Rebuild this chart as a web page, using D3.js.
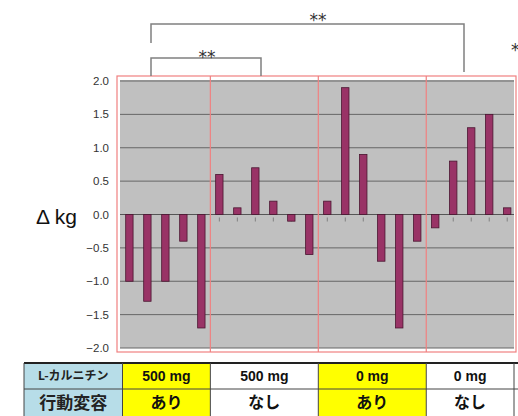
<!DOCTYPE html>
<html><head><meta charset="utf-8">
<script src="https://cdn.jsdelivr.net/npm/d3@7/dist/d3.min.js"></script>
<style>
html,body{margin:0;padding:0;background:#fff;}
svg{display:block;}
</style></head>
<body>
<svg id="c" width="518" height="416"></svg>
<script>
// ---- data ----
const groups = ["A","B","C","D"];
const groupSizes = [5, 6, 6, 5];
const values = [
  -1.0, -1.3, -1.0, -0.4, -1.7,
  0.6, 0.1, 0.7, 0.2, -0.1, -0.6,
  0.2, 1.9, 0.9, -0.7, -1.7, -0.4,
  -0.2, 0.8, 1.3, 1.5, 0.1
];
const yTicks = [2.0, 1.5, 1.0, 0.5, 0.0, -0.5, -1.0, -1.5, -2.0];
const rowHeaders = ["L-カルニチン", "行動変容"];
const row1 = ["500 mg", "500 mg", "0 mg", "0 mg"];
const row2 = ["あり", "なし", "あり", "なし"];
const colFill = ["#ffff00", "#ffffff", "#ffff00", "#ffffff"];
const yLabel = "Δ kg";
const sigLabel = "**";

// ---- layout ----
const svg = d3.select("#c");
const JP = "'Noto Sans CJK JP', 'Noto Sans', sans-serif";
const NUM = "'Liberation Sans Narrow', 'Liberation Sans', Arial, sans-serif";

const ids = values.map((d, i) => i);
const x = d3.scaleBand().domain(ids).range([120.3, 516.3]).paddingInner(0.59).paddingOuter(0.3);
const y = d3.scaleLinear().domain([-2, 2]).range([348, 81]);
const step = x.step();

// group boundaries from the band scale
const bounds = [117];
let acc = 0;
groupSizes.forEach((n, gi) => {
  acc += n;
  if (gi < groupSizes.length - 1) bounds.push(x(acc - 1) + x.bandwidth() / 2 + step / 2);
});
bounds.push(516);

// plot background
svg.append("rect").attr("x", 117).attr("y", 76).attr("width", 399).attr("height", 276)
  .attr("fill", "#fff").attr("stroke", "#f08080").attr("stroke-width", 1.2);
svg.append("rect").attr("x", 120).attr("y", 80).attr("width", 394).attr("height", 268)
  .attr("fill", "#c0c0c0");

// gridlines
svg.append("g").selectAll("line").data(yTicks).join("line")
  .attr("x1", 120).attr("x2", 514)
  .attr("y1", d => y(d)).attr("y2", d => y(d))
  .attr("stroke", d => d === 0 ? "#555" : "#666").attr("stroke-width", 1);

// small category ticks at zero line
svg.append("g").selectAll("line").data(ids).join("line")
  .attr("x1", d => x(d) + x.bandwidth() / 2).attr("x2", d => x(d) + x.bandwidth() / 2)
  .attr("y1", y(0) + 3).attr("y2", y(0) + 7)
  .attr("stroke", "#808080").attr("stroke-width", 1);

// bars
svg.append("g").selectAll("rect").data(values).join("rect")
  .attr("x", (d, i) => x(i))
  .attr("width", x.bandwidth())
  .attr("y", d => y(Math.max(0, d)))
  .attr("height", d => Math.abs(y(d) - y(0)))
  .attr("fill", "#993366").attr("stroke", "#4a1530").attr("stroke-width", 0.8);

// red group dividers
svg.append("g").selectAll("line").data(bounds.slice(1, -1)).join("line")
  .attr("x1", d => d).attr("x2", d => d).attr("y1", 76).attr("y2", 352)
  .attr("stroke", "#f08080").attr("stroke-width", 1.2);

// y axis labels
svg.append("g").selectAll("text").data(yTicks).join("text")
  .attr("x", 109).attr("y", d => y(d)).attr("dy", "0.35em")
  .attr("text-anchor", "end").attr("font-family", NUM).attr("font-size", 11.5)
  .attr("fill", "#333").text(d => d3.format(".1f")(d).replace("-", "−"));

svg.append("text").attr("x", 36).attr("y", 224).attr("font-family", "'Liberation Sans', Arial, sans-serif")
  .attr("font-size", 21).attr("fill", "#111").text(yLabel);

// significance brackets
const br = svg.append("g").attr("stroke", "#808080").attr("stroke-width", 1.5).attr("fill", "none");
br.append("path").attr("d", "M151,43V24H464V72");
br.append("path").attr("d", "M151,76V58H261V76");
const st = svg.append("g").attr("font-family", "'DejaVu Sans', sans-serif")
  .attr("font-size", 17).attr("fill", "#333").attr("text-anchor", "middle");
st.append("text").attr("x", 318).attr("y", 26).text(sigLabel);
st.append("text").attr("x", 207).attr("y", 63).text(sigLabel);
st.append("text").attr("x", 511).attr("y", 56).attr("text-anchor", "start").text(sigLabel);

// table
const tTop = 363, tMid = 389, tBot = 418;
const colX = [24].concat(bounds.slice(0, -1).map((b, i) => i === 0 ? 122.5 : b)).concat([514]);
const tg = svg.append("g");
// header column
tg.append("rect").attr("x", colX[0]).attr("y", tTop).attr("width", colX[1] - colX[0]).attr("height", tBot - tTop)
  .attr("fill", "#b7dde8");
groups.forEach((g, i) => {
  tg.append("rect").attr("x", colX[i + 1]).attr("y", tTop).attr("width", colX[i + 2] - colX[i + 1])
    .attr("height", tBot - tTop).attr("fill", colFill[i]);
});
// lines
tg.append("line").attr("x1", colX[0]).attr("x2", 518).attr("y1", tTop).attr("y2", tTop)
  .attr("stroke", "#222").attr("stroke-width", 2);
tg.append("line").attr("x1", colX[0]).attr("x2", 518).attr("y1", tMid).attr("y2", tMid)
  .attr("stroke", "#444").attr("stroke-width", 1);
tg.selectAll("line.v").data(colX).join("line").attr("class", "v")
  .attr("x1", d => d).attr("x2", d => d).attr("y1", tTop).attr("y2", tBot)
  .attr("stroke", "#444").attr("stroke-width", 1);
// texts
tg.append("text").attr("x", (colX[0] + colX[1]) / 2).attr("y", (tTop + tMid) / 2).attr("dy", "0.36em")
  .attr("text-anchor", "middle").attr("font-family", JP).attr("font-weight", "bold").attr("font-size", 12)
  .attr("fill", "#222").text(rowHeaders[0]);
tg.append("text").attr("x", (colX[0] + colX[1]) / 2).attr("y", (tMid + 416) / 2).attr("dy", "0.36em")
  .attr("text-anchor", "middle").attr("font-family", JP).attr("font-weight", "bold").attr("font-size", 17)
  .attr("fill", "#222").text(rowHeaders[1]);
row1.forEach((t, i) => {
  tg.append("text").attr("x", (colX[i + 1] + colX[i + 2]) / 2).attr("y", (tTop + tMid) / 2).attr("dy", "0.36em")
    .attr("text-anchor", "middle").attr("font-family", "'Liberation Sans', Arial, sans-serif")
    .attr("font-weight", "bold").attr("font-size", 14).attr("fill", "#111").text(t);
});
row2.forEach((t, i) => {
  tg.append("text").attr("x", (colX[i + 1] + colX[i + 2]) / 2).attr("y", (tMid + 416) / 2).attr("dy", "0.36em")
    .attr("text-anchor", "middle").attr("font-family", JP)
    .attr("font-weight", "bold").attr("font-size", 16).attr("fill", "#111").text(t);
});
</script>
</body></html>
